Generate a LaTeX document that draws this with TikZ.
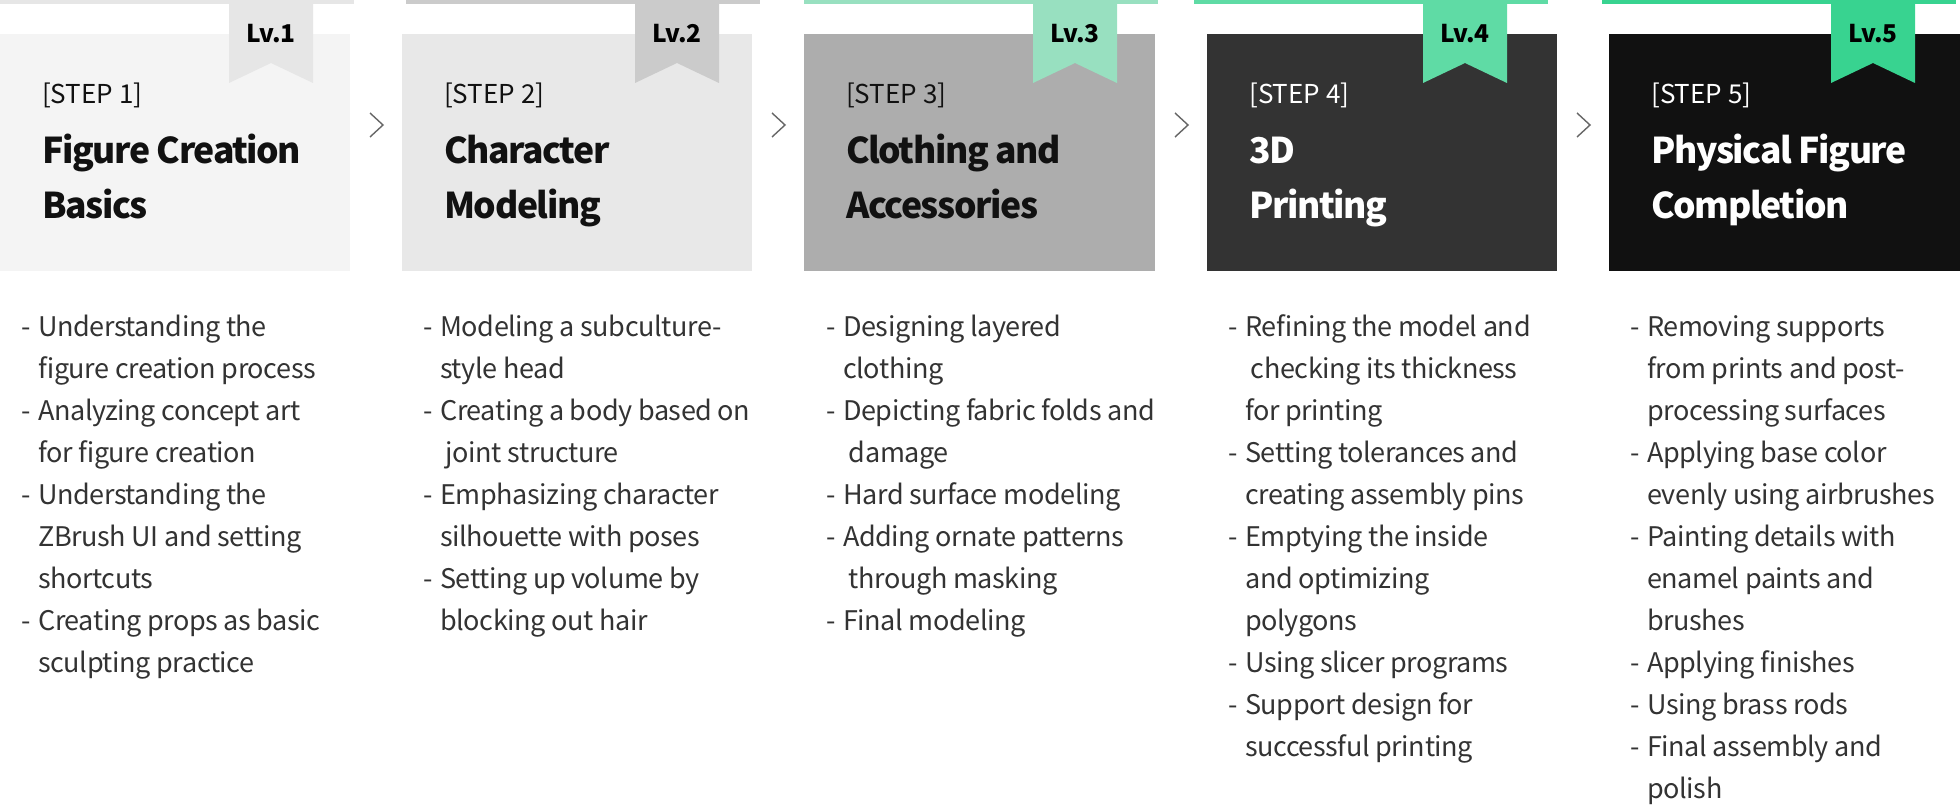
\documentclass[tikz,border=0pt]{standalone}
\usepackage{fontspec}
\setmainfont{Noto Sans CJK KR}
\newfontfamily\titlefont{Noto Sans CJK KR}[LetterSpace=-4]
\newfontfamily\bodyfont{Noto Sans CJK KR}[LetterSpace=-1.5]
\usetikzlibrary{calc}
\definecolor{bg1}{HTML}{F4F4F4}
\definecolor{bg2}{HTML}{E8E8E8}
\definecolor{bg3}{HTML}{ADADAD}
\definecolor{bg4}{HTML}{333333}
\definecolor{bg5}{HTML}{111111}
\definecolor{ac1}{HTML}{E6E6E6}
\definecolor{ac2}{HTML}{CBCBCB}
\definecolor{ac3}{HTML}{98E0C0}
\definecolor{ac4}{HTML}{5FDBA5}
\definecolor{ac5}{HTML}{38D390}
\definecolor{tx1}{HTML}{111111}
\definecolor{tx2}{HTML}{111111}
\definecolor{tx3}{HTML}{111111}
\definecolor{tx4}{HTML}{FFFFFF}
\definecolor{tx5}{HTML}{FFFFFF}
\definecolor{bodytx}{HTML}{333333}
\definecolor{chevc}{HTML}{666666}
\newcommand\itm[1]{\hbox{\makebox[17pt][l]{-}#1}}
\newcommand\cnt[1]{\hbox{\hspace*{17pt}#1}}
\newcommand\ttl[2]{\vtop{\baselineskip=54.5pt\hbox{#1}\hbox{#2}}}
\begin{document}
\begin{tikzpicture}[x=1pt,y=-1pt,
  boxstyle/.style={anchor=north west, inner sep=0pt, outer sep=0pt, minimum height=237pt, draw=none},
  lvstyle/.style={anchor=base, inner sep=0pt, font=\fontsize{24.5}{28}\selectfont\bfseries, text=black},
  stepstyle/.style={anchor=base west, inner sep=0pt, font=\fontsize{26}{30}\selectfont},
  titlestyle/.style={anchor=base west, inner sep=0pt, font=\titlefont\fontsize{35.5}{54}\selectfont\bfseries},
  liststyle/.style={anchor=base west, inner sep=0pt, text=bodytx, font=\bodyfont\fontsize{27}{42}\selectfont},
  chev/.style={draw=chevc, line width=1.4pt}]
\useasboundingbox[fill=white] (0,0) rectangle (1960,810);
\foreach \i/\bx/\bw/\rx/\sx in {1/0/350/229/0, 2/402/350/635/406, 3/804/351/1033/804, 4/1207/350/1423/1194, 5/1609/351/1831/1602}{
  \fill[ac\i] (\sx,0) rectangle ++(354,4);
  \node[boxstyle, fill=bg\i, minimum width=\bw pt] (box\i) at (\bx,34) {};
  \fill[ac\i] (\rx,4) -- ++(84,0) -- ++(0,79) -- ++(-42,-20) -- ++(-42,20) -- cycle;
  \node[lvstyle] (lv\i) at (\rx+42,43) {Lv.\i};
  \node[stepstyle, text=tx\i] (step\i) at (\bx+42,104) {[STEP \i]};
}
\node[titlestyle, text=tx1] (title1) at (42,164) {\ttl{Figure Creation}{Basics}};
\node[titlestyle, text=tx2] (title2) at (444,164) {\ttl{Character}{Modeling}};
\node[titlestyle, text=tx3] (title3) at (846,164) {\ttl{Clothing and}{Accessories}};
\node[titlestyle, text=tx4] (title4) at (1249,164) {\ttl{3D}{Printing}};
\node[titlestyle, text=tx5] (title5) at (1651,164) {\ttl{Physical Figure}{Completion}};
\foreach \a/\b in {1/2,2/3,3/4,4/5}{
  \coordinate (m\a) at ($(box\a.north east)!0.5!(box\b.north west)+(0,91)$);
  \draw[chev] ($(m\a)+(-6,-12)$) -- ($(m\a)+(7,0)$) -- ($(m\a)+(-6,12)$);
}
\node[liststyle] (list1) at (21,337) {\vtop{%
  \itm{Understanding the}
  \cnt{figure creation process}
  \itm{Analyzing concept art}
  \cnt{for figure creation}
  \itm{Understanding the}
  \cnt{ZBrush UI and setting}
  \cnt{shortcuts}
  \itm{Creating props as basic}
  \cnt{sculpting practice}}};
\node[liststyle] (list2) at (423,337) {\vtop{%
  \itm{Modeling a subculture-}
  \cnt{style head}
  \itm{Creating a body based on}
  \cnt{\ joint structure}
  \itm{Emphasizing character}
  \cnt{silhouette with poses}
  \itm{Setting up volume by}
  \cnt{blocking out hair}}};
\node[liststyle] (list3) at (826,337) {\vtop{%
  \itm{Designing layered}
  \cnt{clothing}
  \itm{Depicting fabric folds and}
  \cnt{\ damage}
  \itm{Hard surface modeling}
  \itm{Adding ornate patterns}
  \cnt{\ through masking}
  \itm{Final modeling}}};
\node[liststyle] (list4) at (1228,337) {\vtop{%
  \itm{Refining the model and}
  \cnt{\ checking its thickness}
  \cnt{for printing}
  \itm{Setting tolerances and}
  \cnt{creating assembly pins}
  \itm{Emptying the inside}
  \cnt{and optimizing}
  \cnt{polygons}
  \itm{Using slicer programs}
  \itm{Support design for}
  \cnt{successful printing}}};
\node[liststyle] (list5) at (1630,337) {\vtop{%
  \itm{Removing supports}
  \cnt{from prints and post-}
  \cnt{processing surfaces}
  \itm{Applying base color}
  \cnt{evenly using airbrushes}
  \itm{Painting details with}
  \cnt{enamel paints and}
  \cnt{brushes}
  \itm{Applying finishes}
  \itm{Using brass rods}
  \itm{Final assembly and}
  \cnt{polish}}};
\end{tikzpicture}
\end{document}
